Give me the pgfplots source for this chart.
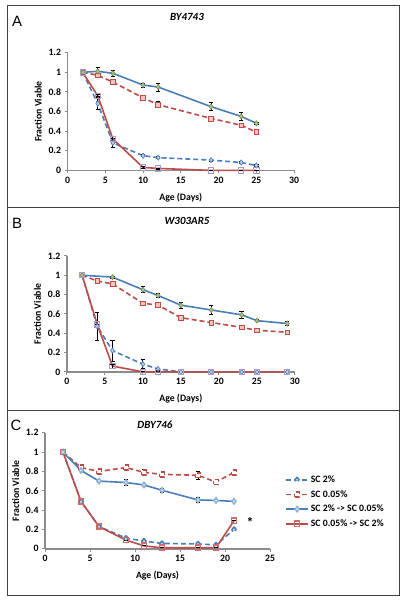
\documentclass[border=0pt]{standalone}
\usepackage{fontspec}
\setmainfont{Carlito}
\newfontfamily\arialfont{Liberation Sans}
\usepackage{pgfplots}
\pgfplotsset{compat=1.18}
\definecolor{myblue}{HTML}{4A7EBB}
\definecolor{myred}{HTML}{BE4B48}
\definecolor{lblue}{HTML}{B9CDE5}
\definecolor{lpink}{HTML}{F2C4C2}
\definecolor{lgreen}{HTML}{A9C47F}
\definecolor{lav}{HTML}{A99BC9}
\definecolor{axgray}{HTML}{8C8C8C}
\pgfplotsset{
  panel/.style={
    scale only axis, clip=false,
    axis x line=bottom, axis y line=left,
    axis line style={-, draw=axgray, line width=1.6bp},
    tick align=outside, major tick length=3bp,
    tick style={draw=axgray, line width=1bp},
    xtick pos=bottom, ytick pos=left,
    ymin=0, ymax=1.2, ytick={0,0.2,...,1.2},
    yticklabels={0,0.2,0.4,0.6,0.8,1,1.2},
    /pgf/number format/assume math mode=true,
    ticklabel style={font=\bfseries\fontsize{9.8}{10}\selectfont},
    label style={font=\bfseries\fontsize{9.8}{10}\selectfont},
    xlabel={Age (Days)}, ylabel={Fraction Viable},
    xlabel style={yshift=-3bp},
    error bars/y dir=both, error bars/y explicit,
    error bars/error bar style={black, line width=0.8bp, solid},
    error bars/error mark options={rotate=90, mark size=2.2bp, black, line width=0.8bp, solid},
  },
  sA/.style={color=myblue, line width=1.6bp, dash pattern=on 5bp off 3bp, mark=diamond*, mark size=2.6bp, mark options={solid, fill=lblue, draw=myblue, line width=0.6bp}},
  sB/.style={color=myred, line width=1.6bp, dash pattern=on 5bp off 3bp, mark=square*, mark size=2.4bp, mark options={solid, fill=lpink, draw=myred, line width=0.6bp}},
  sC/.style={color=myblue, line width=1.6bp, solid, mark=diamond*, mark size=2.6bp, mark options={solid, fill=lgreen, draw=lgreen!70!black, line width=0.6bp}},
  sD/.style={color=myred, line width=1.6bp, solid, mark=square, mark size=2.6bp, mark options={solid, draw=lav, line width=0.8bp}},
}
\begin{document}
\begin{tikzpicture}[x=1bp,y=1bp]
\path[use as bounding box] (0,0) rectangle (402,600);
% frames
\draw[line width=0.8bp, black!75] (7,393) rectangle (399,595);
\draw[line width=0.8bp, black!75] (7,190) rectangle (399,393);
\draw[line width=0.8bp, black!75] (7,5) rectangle (399,190);
\node[font=\arialfont\fontsize{15}{16}\selectfont] at (17,579) {A};
\node[font=\arialfont\fontsize{15}{16}\selectfont] at (17,377) {B};
\node[font=\arialfont\fontsize{15}{16}\selectfont] at (16,175) {C};
\node[font=\bfseries\itshape\fontsize{11}{12}\selectfont] at (187,583) {BY4743};
\node[font=\bfseries\itshape\fontsize{11}{12}\selectfont] at (187,379) {W303AR5};
\node[font=\bfseries\itshape\fontsize{11}{12}\selectfont] at (155,175) {DBY746};

% Panel A
\begin{axis}[panel, at={(89.5,438)}, anchor=south west, width=226.5bp, height=117.7bp,
  xmin=0, xmax=30, xtick={0,5,...,30}]
\addplot[sA] coordinates {(2,1.0) +- (0,0) (4,0.68) +- (0,0.06) (6,0.28) +- (0,0.05) (10,0.15) +- (0,0.01) (12,0.13) +- (0,0.01) (19,0.105) +- (0,0.01) (23,0.08) +- (0,0.01) (25,0.05) +- (0,0.01)};
\addplot[sB] coordinates {(2,1.0) +- (0,0) (4,0.97) +- (0,0.02) (6,0.90) +- (0,0.02) (10,0.74) +- (0,0.02) (12,0.67) +- (0,0.03) (19,0.53) +- (0,0.01) (23,0.46) +- (0,0.01) (25,0.39) +- (0,0.01)};
\addplot[sC] coordinates {(2,1.0) +- (0,0) (4,1.01) +- (0,0.04) (6,0.99) +- (0,0.03) (10,0.87) +- (0,0.02) (12,0.85) +- (0,0.04) (19,0.65) +- (0,0.04) (23,0.55) +- (0,0.04) (25,0.48) +- (0,0.01)};
\addplot[sD] coordinates {(2,1.0) +- (0,0) (4,0.76) +- (0,0.01) (6,0.32) +- (0,0.03) (10,0.03) +- (0,0.01) (12,0.02) +- (0,0.005) (19,0.0) +- (0,0) (23,0.0) +- (0,0) (25,0.0) +- (0,0)};
\end{axis}

% Panel B
\begin{axis}[panel, at={(88,236)}, anchor=south west, width=228bp, height=116bp,
  xmin=0, xmax=30, xtick={0,5,...,30}]
\addplot[sA] coordinates {(2,1.0) +- (0,0) (4,0.47) +- (0,0.145) (6,0.22) +- (0,0.11) (10,0.08) +- (0,0.045) (12,0.03) +- (0,0.01) (15,0.0) +- (0,0) (19,0.0) +- (0,0) (23,0.0) +- (0,0) (25,0.0) +- (0,0) (29,0.0) +- (0,0)};
\addplot[sB] coordinates {(2,1.0) +- (0,0) (4,0.94) +- (0,0.015) (6,0.91) +- (0,0.01) (10,0.71) +- (0,0.02) (12,0.69) +- (0,0.01) (15,0.56) +- (0,0.02) (19,0.51) +- (0,0.02) (23,0.46) +- (0,0.02) (25,0.43) +- (0,0.02) (29,0.41) +- (0,0.02)};
\addplot[sC] coordinates {(2,1.0) +- (0,0) (6,0.98) +- (0,0.01) (10,0.85) +- (0,0.03) (12,0.79) +- (0,0.02) (15,0.69) +- (0,0.03) (19,0.64) +- (0,0.05) (23,0.59) +- (0,0.04) (25,0.53) +- (0,0.01) (29,0.50) +- (0,0.02)};
\addplot[sD] coordinates {(2,1.0) +- (0,0) (4,0.49) +- (0,0) (6,0.06) +- (0,0.02) (10,0.0) +- (0,0) (12,0.0) +- (0,0) (15,0.0) +- (0,0) (19,0.0) +- (0,0) (23,0.0) +- (0,0) (25,0.0) +- (0,0) (29,0.0) +- (0,0)};
\end{axis}

% Panel C
\begin{axis}[panel, at={(50,53)}, anchor=south west, width=225bp, height=116bp,
  xmin=0, xmax=25, xtick={0,5,...,25},
  legend style={at={(rel axis cs:1.067,0.405)}, anchor=west, draw=none, fill=none, inner sep=0pt,
    font=\bfseries\fontsize{9.8}{10}\selectfont, row sep=2.5bp},
  legend cell align=left,
  legend image code/.code={\draw[mark repeat=2,mark phase=2,#1] plot coordinates {(0bp,0bp) (11bp,0bp) (22bp,0bp)};}]
\addplot[sA, mark options={fill=white}] coordinates {(2,1.0) +- (0,0) (4,0.49) +- (0,0.02) (6,0.23) +- (0,0.02) (9,0.11) +- (0,0.01) (11,0.08) +- (0,0.01) (13,0.055) +- (0,0.01) (17,0.05) +- (0,0.01) (19,0.04) +- (0,0) (21,0.20) +- (0,0)};
\addlegendentry{SC 2\%}
\addplot[sB, mark options={fill=white}] coordinates {(2,1.0) +- (0,0) (4,0.84) +- (0,0.02) (6,0.80) +- (0,0.02) (9,0.84) +- (0,0.015) (11,0.79) +- (0,0.03) (13,0.77) +- (0,0.02) (17,0.76) +- (0,0.04) (19,0.69) +- (0,0.01) (21,0.79) +- (0,0)};
\addlegendentry{SC 0.05\%}
\addplot[sC, mark options={fill=white, draw=myblue!60}] coordinates {(2,1.0) +- (0,0) (4,0.81) +- (0,0.01) (6,0.70) +- (0,0.01) (9,0.685) +- (0,0.03) (11,0.66) +- (0,0.02) (13,0.605) +- (0,0.02) (17,0.505) +- (0,0.025) (19,0.50) +- (0,0) (21,0.49) +- (0,0)};
\addlegendentry{SC 2\% -> SC 0.05\%}
\addplot[sD, mark options={draw=myred!80, fill=white}] coordinates {(2,1.0) +- (0,0) (4,0.49) +- (0,0.02) (6,0.23) +- (0,0.03) (9,0.09) +- (0,0) (11,0.03) +- (0,0) (13,0.01) +- (0,0) (17,0.01) +- (0,0) (19,0.01) +- (0,0) (21,0.29) +- (0,0)};
\addlegendentry{SC 0.05\% -> SC 2\%}
\node[font=\bfseries\fontsize{14}{14}\selectfont] at (axis cs:22.8,0.27) {*};
\end{axis}
\end{tikzpicture}
\end{document}
